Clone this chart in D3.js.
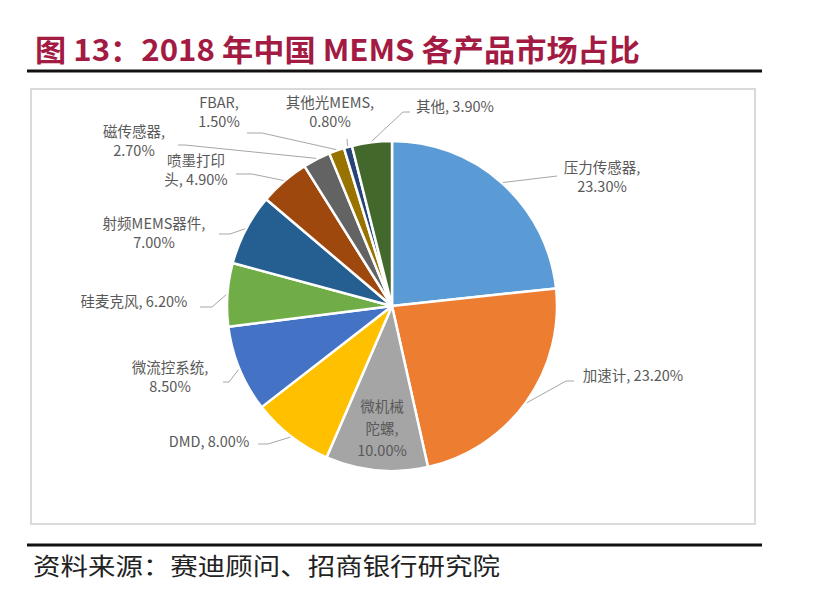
<!DOCTYPE html>
<html>
<head>
<meta charset="utf-8">
<script src="https://cdn.jsdelivr.net/npm/d3@7"></script>
<style>
  body { margin: 0; background: #fff; }
  svg { display: block; }
</style>
</head>
<body>
<div id="chart"></div>
<script>
// slice data, clockwise from 12 o'clock
var categories = ["压力传感器", "加速计", "微机械陀螺", "DMD", "微流控系统", "硅麦克风",
                  "射频MEMS器件", "喷墨打印头", "磁传感器", "FBAR", "其他光MEMS", "其他"];
var shares = [23.3, 23.2, 10.0, 8.0, 8.5, 6.2, 7.0, 4.9, 2.7, 1.5, 0.8, 3.9];
var colors = ["#5B9BD5", "#ED7D31", "#A5A5A5", "#FFC000", "#4472C4", "#70AD47",
              "#255E91", "#9E480E", "#636363", "#997300", "#264478", "#43682B"];

// label layout: text lines, anchor point, end of leader line
var labelLayout = [
  {lines: ["压力传感器,", "23.30%"], x: 602, y: 177, end: [557, 176], elbow: null},
  {lines: ["加速计, 23.20%"], x: 633, y: 376, end: [574, 381], elbow: [566, 381]},
  {lines: ["微机械", "陀螺,", "10.00%"], x: 382, y: 407, end: null, elbow: null},
  {lines: ["DMD, 8.00%"], x: 209, y: 442, end: [258, 444], elbow: [268, 444]},
  {lines: ["微流控系统,", "8.50%"], x: 170, y: 377, end: [223, 382], elbow: [229, 382]},
  {lines: ["硅麦克风, 6.20%"], x: 134, y: 302, end: [200, 307], elbow: [212, 307]},
  {lines: ["射频MEMS器件,", "7.00%"], x: 154, y: 233, end: [219, 234], elbow: [230, 234]},
  {lines: ["喷墨打印", "头, 4.90%"], x: 196, y: 170, end: [236, 174], elbow: [252, 174]},
  {lines: ["磁传感器,", "2.70%"], x: 134, y: 141, end: [178, 145], elbow: [185, 145]},
  {lines: ["FBAR,", "1.50%"], x: 219, y: 112, end: [247, 133], elbow: [262, 133]},
  {lines: ["其他光MEMS,", "0.80%"], x: 330, y: 112, end: [347, 139], elbow: null},
  {lines: ["其他, 3.90%"], x: 455, y: 107, end: [410, 112], elbow: [403, 112]}
];

var W = 814, H = 605;
var cx = 392, cy = 306, R = 165;

var svg = d3.select("#chart").append("svg")
  .attr("width", W).attr("height", H)
  .style("font-family", "'Noto Sans CJK SC', 'Noto Sans', sans-serif");

// title
svg.append("text")
  .attr("x", 35).attr("y", 61)
  .attr("font-size", 30).attr("font-weight", 600)
  .attr("fill", "#A31B43")
  .attr("textLength", 605).attr("lengthAdjust", "spacingAndGlyphs")
  .text("图 13：2018 年中国 MEMS 各产品市场占比");

svg.append("line").attr("x1", 27).attr("x2", 762).attr("y1", 71).attr("y2", 71)
  .attr("stroke", "#111").attr("stroke-width", 3);

// chart frame
svg.append("rect").attr("x", 31).attr("y", 89).attr("width", 724).attr("height", 435)
  .attr("fill", "#fff").attr("stroke", "#D9D9D9").attr("stroke-width", 2);

// source
svg.append("line").attr("x1", 27).attr("x2", 762).attr("y1", 545).attr("y2", 545)
  .attr("stroke", "#111").attr("stroke-width", 3);
svg.append("text")
  .attr("x", 33).attr("y", 575)
  .attr("font-size", 24).attr("fill", "#222")
  .attr("textLength", 467).attr("lengthAdjust", "spacingAndGlyphs")
  .text("资料来源：赛迪顾问、招商银行研究院");

// pie
var pie = d3.pie().sort(null).value(function(d) { return d; });
var arcs = pie(shares);
var arc = d3.arc().innerRadius(0).outerRadius(R);
var edge = d3.arc().innerRadius(R + 1).outerRadius(R + 1);

var g = svg.append("g").attr("transform", "translate(" + cx + "," + cy + ")");

g.selectAll("path.slice")
  .data(arcs)
  .enter()
  .append("path")
    .attr("class", "slice")
    .attr("d", arc)
    .attr("fill", function(d, i) { return colors[i]; })
    .attr("stroke", "#fff")
    .attr("stroke-width", 2.5)
    .attr("stroke-linejoin", "round");

// leader lines
var leaders = svg.append("g");
arcs.forEach(function(d, i) {
  var L = labelLayout[i];
  if (!L.end) return;
  var s = edge.centroid(d);
  var pts = [[cx + s[0], cy + s[1]]];
  if (L.elbow) pts.push(L.elbow);
  pts.push(L.end);
  leaders.append("path")
    .attr("d", d3.line()(pts))
    .attr("fill", "none")
    .attr("stroke", "#A6A6A6")
    .attr("stroke-width", 1);
});

// labels
var lineH = 19;
labelLayout.forEach(function(L, i) {
  var t = svg.append("text")
    .attr("text-anchor", "middle")
    .attr("font-size", 14.5)
    .attr("fill", "#595959");
  var y0 = L.y - (L.lines.length - 1) * lineH / 2;
  if (i === 2) y0 = L.y; // inside-slice label keeps its first line
  L.lines.forEach(function(s, k) {
    t.append("tspan")
      .attr("x", L.x)
      .attr("y", y0 + k * (i === 2 ? 22 : lineH))
      .attr("dy", "0.35em")
      .text(s);
  });
});
</script>
</body>
</html>
